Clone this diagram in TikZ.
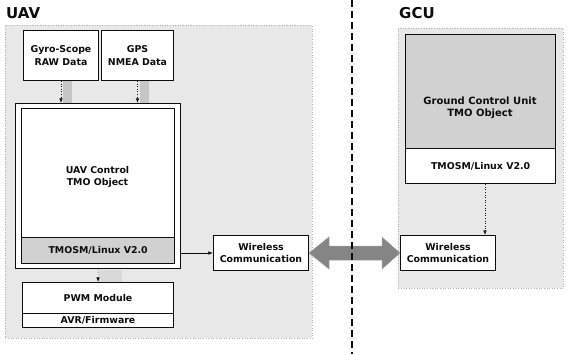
\documentclass[tikz,border=0pt]{standalone}
\usepackage{fontspec}
\setmainfont{DejaVu Sans}
\usetikzlibrary{arrows.meta,positioning,calc}
\definecolor{tmozone}{gray}{0.91}
\definecolor{tmoshade}{gray}{0.82}
\definecolor{tmolink}{gray}{0.52}
\definecolor{tmoink}{gray}{0.05}
\tikzset{
  tmo/.style={font=\fontsize{9.4}{12.5}\selectfont\bfseries, text=tmoink},
  tmozonebox/.style={draw=gray!60, dotted, fill=tmozone, line width=0.6pt, inner sep=0pt},
  tmobox/.style={draw=tmoink, fill=white, line width=1pt, align=center, inner sep=0pt},
  tmoband/.style={draw=tmoink, line width=0.6pt, align=center, inner sep=0pt},
  tmoarr/.style={-{Latex[length=1.6mm,width=1.2mm]}, line width=0.6pt, draw=tmoink},
  tmodot/.style={tmoarr, dotted},
  tmostripe/.style={fill=gray!45, draw=none},
  tmotitle/.style={font=\fontsize{15}{15}\selectfont\bfseries, text=tmoink, inner sep=0pt},
}

\begin{document}
\begin{tikzpicture}[tmo, x=1pt, y=-1pt]
  \useasboundingbox (0,0) rectangle (568,354);
  % zones
  \node[tmozonebox, minimum width=307pt, minimum height=313pt, anchor=north west] (uavzone) at (5,25) {};
  \node[tmozonebox, minimum width=165pt, minimum height=260pt, anchor=north west] (gcuzone) at (398,28) {};
  \node[tmotitle, anchor=south west] (uavtitle) at (6,19) {UAV};
  \node[tmotitle, anchor=south west] (gcutitle) at (399,19) {GCU};
  % UAV side
  \node[tmobox, minimum width=75pt, minimum height=50pt, anchor=north west] (gyro) at (23,30) {Gyro-Scope\\RAW Data};
  \node[tmobox, minimum width=72pt, minimum height=50pt, right=2pt of gyro] (gps) {GPS\\NMEA Data};
  \node[tmobox, line width=1.3pt, minimum width=165pt, minimum height=165pt, anchor=north west] (ctrl) at (15,103) {};
  \node[tmoband, minimum width=153pt, minimum height=155pt] (ctrlin) at (ctrl.center) {};
  \node[tmoband, fill=tmoshade, minimum width=153pt, minimum height=26pt, anchor=south] (ctrlos) at (ctrlin.south) {TMOSM/Linux V2.0};
  \node[align=center] (ctrlname) at (97.5,177) {UAV Control\\TMO Object};
  \node[tmobox, minimum width=95pt, minimum height=35pt, anchor=north west] (wlu) at (213,235) {Wireless\\Communication};
  \node[tmobox, minimum width=151pt, minimum height=45pt, anchor=north west] (pwm) at (22,282) {};
  \node[tmoband, minimum width=151pt, minimum height=14pt, anchor=south] (avr) at (pwm.south) {AVR/Firmware};
  \node (pwmname) at ($(pwm.north)!0.5!(avr.north)$) {PWM Module};
  % GCU side
  \node[tmobox, line width=1.2pt, minimum width=150pt, minimum height=149pt, anchor=north west] (gcuobj) at (405,34) {};
  \node[fill=tmoshade, inner sep=0pt, minimum width=148.8pt, minimum height=113.4pt, anchor=north] (gcutop) at ([yshift=-0.6pt]gcuobj.north) {};
  \draw[tmoink, line width=0.6pt] (gcutop.south west) -- (gcutop.south east);
  \node[font=\fontsize{10}{12.5}\selectfont\bfseries, align=center] (gcuname) at (480,108) {Ground Control Unit\\TMO Object};
  \node (gcuos) at ($(gcutop.south)!0.5!(gcuobj.south)$) {TMOSM/Linux V2.0};
  \node[tmobox, minimum width=95pt, minimum height=35pt, anchor=north west] (wlg) at (400,235) {Wireless\\Communication};
  \coordinate (gcuin) at ($(wlg.north east)+(-11,0)$);
  % connectors
  \fill[tmostripe] ($(gyro.south)+(2,0)$) rectangle ($(gyro.south |- ctrl.north)+(11,0)$);
  \fill[tmostripe] ($(gps.south)+(2,0)$) rectangle ($(gps.south |- ctrl.north)+(11,0)$);
  \fill[tmostripe, fill=gray!30] ($(ctrl.south)+(1,0.7)$) rectangle ($(pwm.north)+(24,-0.5)$);
  \draw[tmodot] (gyro.south) -- (gyro.south |- ctrl.north);
  \draw[tmodot] (gps.south) -- (gps.south |- ctrl.north);
  \draw[tmodot] (ctrl.south) -- (pwm.north);
  \draw[tmoarr] (ctrl.east |- wlu) -- (wlu.west);
  \draw[tmodot] (gcuobj.south -| gcuin) -- (gcuin);
  \filldraw[fill=tmolink, draw=gray!70, line width=0.5pt]
    (wlu.east) -- ++(20,-16) -- ++(0,9) -- ($(wlg.west)+(-18,-7)$) -- ++(0,-9) -- (wlg.west)
    -- ++(-18,16) -- ++(0,-9) -- ($(wlu.east)+(20,7)$) -- ++(0,9) -- cycle;
  % divider
  \draw[tmoink, line width=2pt, dash pattern=on 7pt off 4pt] (352,0) -- (352,354);
\end{tikzpicture}
\end{document}
